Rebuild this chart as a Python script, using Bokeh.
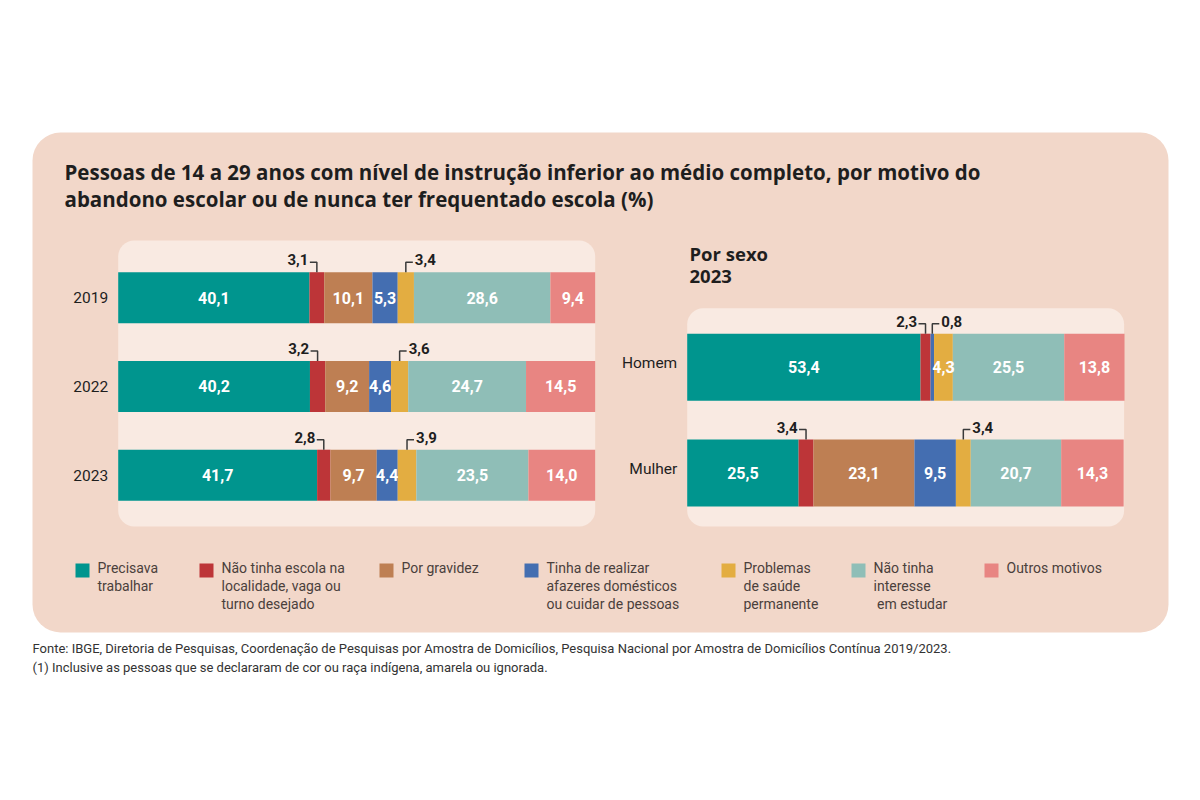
from bokeh.plotting import figure
from bokeh.models import Range1d, ColumnDataSource, BoxAnnotation
from bokeh.core.properties import value
from bokeh.embed import file_html
from bokeh.resources import INLINE

# ---------------- data ----------------
categories = [
    "Precisava\ntrabalhar",
    "Não tinha escola na\nlocalidade, vaga ou\nturno desejado",
    "Por gravidez",
    "Tinha de realizar\nafazeres domésticos\nou cuidar de pessoas",
    "Problemas\nde saúde\npermanente",
    "Não tinha\ninteresse\n\u00a0em estudar",
    "Outros motivos",
]
colors = ["#00958E", "#BD3538", "#BE7F53", "#446EB1", "#E3AD41", "#8FBEB7", "#E88582"]

years = ["2019", "2022", "2023"]
v2019 = [40.1, 3.1, 10.1, 5.3, 3.4, 28.6, 9.4]
v2022 = [40.2, 3.2, 9.2, 4.6, 3.6, 24.7, 14.5]
v2023 = [41.7, 2.8, 9.7, 4.4, 3.9, 23.5, 14.0]

sexes = ["Homem", "Mulher"]
v_homem = [53.4, 2.3, 0.0, 0.8, 4.3, 25.5, 13.8]
v_mulher = [25.5, 3.4, 23.1, 9.5, 3.4, 20.7, 14.3]

# which small segments get an outside label (left side / right side of leader)
year_out_left = [1, 1, 1]
year_out_right = [4, 4, 4]
sex_out_left = [1, 1]
sex_out_right = [3, 4]

title_lines = [
    "Pessoas de 14 a 29 anos com nível de instrução inferior ao médio completo, por motivo do",
    "abandono escolar ou de nunca ter frequentado escola (%)",
]
subtitle_lines = ["Por sexo", "2023"]
footnotes = [
    "Fonte: IBGE, Diretoria de Pesquisas, Coordenação de Pesquisas por Amostra de Domicílios, Pesquisa Nacional por Amostra de Domicílios Contínua 2019/2023.",
    "(1) Inclusive as pessoas que se declararam de cor ou raça indígena, amarela ou ignorada.",
]

# ---------------- layout ----------------
W, H = 1184, 784
CARD = "#F2D7C9"
PANEL = "#F9EAE2"
DARK = "#1E1E1E"

p = figure(width=W, height=H, x_range=Range1d(0, W), y_range=Range1d(H, 0),
           output_backend="svg", toolbar_location=None, x_axis_location=None,
           y_axis_location=None, min_border=0, background_fill_color="white",
           border_fill_color="white", outline_line_color=None)
p.grid.visible = False


def x_range_px(px0, ppu):
    start = -px0 / ppu
    return Range1d(start, start + W / ppu)


def y_range_px(py0, pitch):
    end = -py0 / pitch
    return Range1d(end + H / pitch, end)


L_X0, L_PPU, L_Y0, L_PITCH, L_BH = 117.7, 4.77, 297.2, 88.75, 51
R_X0, R_PPU, R_Y0, R_PITCH, R_BH = 686.7, 4.369, 366.7, 105.8, 67

p.extra_x_ranges = {"lx": x_range_px(L_X0, L_PPU), "rx": x_range_px(R_X0, R_PPU)}
p.extra_y_ranges = {"ly": y_range_px(L_Y0, L_PITCH), "ry": y_range_px(R_Y0, R_PITCH)}

# backgrounds
p.add_layout(BoxAnnotation(left=32, right=1168, top=132, bottom=632, fill_color=CARD,
                           fill_alpha=1, line_color=None, border_radius=28, level="underlay"))
p.add_layout(BoxAnnotation(left=L_X0, right=L_X0 + 100 * L_PPU, top=240, bottom=526,
                           fill_color=PANEL, fill_alpha=1, line_color=None,
                           border_radius=16, level="underlay"))
p.add_layout(BoxAnnotation(left=R_X0, right=R_X0 + 100 * R_PPU, top=307.7, bottom=526,
                           fill_color=PANEL, fill_alpha=1, line_color=None,
                           border_radius=16, level="underlay"))


def fmt(v):
    return f"{v:.1f}".replace(".", ",")


def draw_panel(names, rows, xr, yr, ppu, pitch, bh_px, out_left, out_right, name_dy=0):
    bh = bh_px / pitch
    ys, lefts, rights, cols = [], [], [], []
    in_x, in_y, in_t = [], [], []
    lx, ly, lt = [], [], []
    rx, ry, rt = [], [], []
    lead_xs, lead_ys = [], []
    rise = 10.0 / pitch
    hl = 7.0 / ppu
    for i, vals in enumerate(rows):
        acc = 0.0
        for j, v in enumerate(vals):
            left, right = acc, acc + v
            acc = right
            if v <= 0:
                continue
            ys.append(i); lefts.append(left); rights.append(right); cols.append(colors[j])
            cx = (left + right) / 2
            top = i - bh / 2
            if j == out_left[i]:
                lead_xs.append([cx, cx, cx - hl]); lead_ys.append([top, top - rise, top - rise])
                lx.append(cx - hl); ly.append(top - rise); lt.append(fmt(v))
            elif j == out_right[i]:
                lead_xs.append([cx, cx, cx + hl]); lead_ys.append([top, top - rise, top - rise])
                rx.append(cx + hl); ry.append(top - rise); rt.append(fmt(v))
            else:
                in_x.append(cx); in_y.append(i); in_t.append(fmt(v))
    src = ColumnDataSource(dict(y=ys, left=lefts, right=rights, color=cols))
    p.hbar(y="y", left="left", right="right", height=bh, fill_color="color",
           line_color=None, source=src, x_range_name=xr, y_range_name=yr)
    p.text(x=in_x, y=in_y, text=in_t, text_color="white", text_font=value("Roboto"),
           text_font_style="bold", text_font_size="16px", text_align="center",
           text_baseline="middle", x_range_name=xr, y_range_name=yr)
    p.multi_line(xs=lead_xs, ys=lead_ys, line_color="#3a3a3a", line_width=1.5,
                 x_range_name=xr, y_range_name=yr)
    p.text(x=lx, y=ly, text=lt, text_color=DARK, text_font=value("Roboto"),
           text_font_style="bold", text_font_size="15px", text_align="right",
           text_baseline="middle", x_offset=-1.5, y_offset=-2.5,
           x_range_name=xr, y_range_name=yr)
    p.text(x=rx, y=ry, text=rt, text_color=DARK, text_font=value("Roboto"),
           text_font_style="bold", text_font_size="15px", text_align="left",
           text_baseline="middle", x_offset=2, y_offset=-2.5,
           x_range_name=xr, y_range_name=yr)
    p.text(x=[0] * len(names), y=list(range(len(names))), text=names, text_color=DARK,
           text_font=value("Roboto"), text_font_size="15.5px", text_align="right",
           text_baseline="middle", x_offset=-10, y_offset=name_dy,
           x_range_name=xr, y_range_name=yr)


draw_panel(years, [v2019, v2022, v2023], "lx", "ly", L_PPU, L_PITCH, L_BH,
           year_out_left, year_out_right)
draw_panel(sexes, [v_homem, v_mulher], "rx", "ry", R_PPU, R_PITCH, R_BH,
           sex_out_left, sex_out_right, name_dy=-4)

# titles
p.text(x=[64, 64], y=[171, 198], text=title_lines, text_color=DARK,
       text_font=value("Open Sans"), text_font_style="bold", text_font_size="20.5px",
       text_align="left", text_baseline="middle")
p.text(x=[689, 689], y=[253, 276], text=subtitle_lines, text_color=DARK,
       text_font=value("Open Sans"), text_font_style="bold", text_font_size="18.5px",
       text_align="left", text_baseline="middle")

# legend
leg_text_x = [97, 221, 401, 546, 743, 873, 1006]
p.rect(x=[t - 15 for t in leg_text_x], y=[570] * 7, width=14, height=14,
       fill_color=colors, line_color=None)
p.text(x=leg_text_x, y=[559] * 7, text=categories, text_color="#4a403c",
       text_font=value("Roboto"), text_font_size="14px", text_align="left",
       text_baseline="top", text_line_height=1.15)

# footnotes
p.text(x=[32, 32], y=[648, 667], text=footnotes, text_color="#333333",
       text_font=value("Roboto"), text_font_size="13px", text_align="left",
       text_baseline="middle")

open("out.html", "w").write(file_html(p, INLINE))
